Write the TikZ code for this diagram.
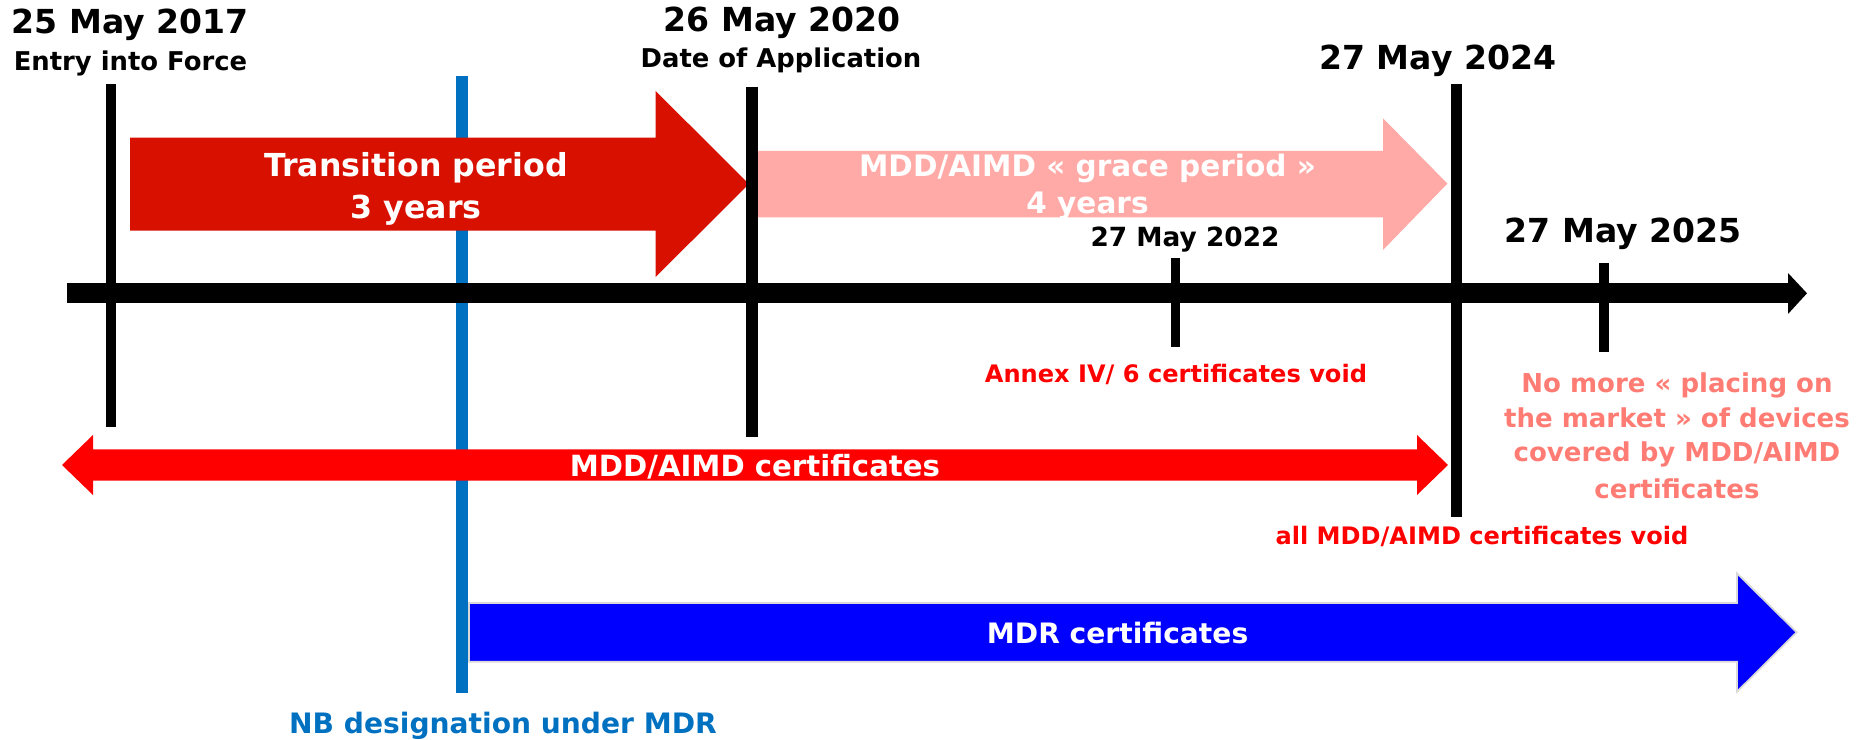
\documentclass[tikz,border=0pt]{standalone}
\usepackage{fontspec}
\setmainfont{DejaVu Sans}
\definecolor{trred}{HTML}{D71000}
\definecolor{gracepink}{HTML}{FFAAA6}
\definecolor{certred}{HTML}{FF0000}
\definecolor{mdrblue}{HTML}{0000FF}
\definecolor{nbblue}{HTML}{0070C0}
\definecolor{salmon}{HTML}{FF7C74}
\begin{document}
\begin{tikzpicture}[x=0.01cm,y=-0.01cm,
  txt/.style={inner sep=0pt, anchor=base},
  fs/.style={font=\bfseries\fontsize{#1}{#1}\selectfont},
  vline/.style={line width=3.0pt, black},
  tick/.style={line width=2.6pt, black},
]
\useasboundingbox (0,0) rectangle (1868,740);

% blue NB designation line (behind axis and arrows)
\coordinate (nbtop) at (462,76);
\coordinate (nbbot) at (462,693.3);
\draw[line width=3.13pt, nbblue] (nbtop) -- (nbbot);

% main axis
\coordinate (axl) at (67,293.3);
\coordinate (axr) at (1789,293.3);
\draw[line width=5.69pt, black] (axl) -- (axr);
\fill[black] (1788,273) -- (1807,293.3) -- (1788,314) -- cycle;

% transition period arrow
\fill[trred] (130,137.7) -- (655.6,137.7) -- (655.6,91) -- (749,184) -- (655.6,277) -- (655.6,230.7) -- (130,230.7) -- cycle;

% grace period arrow
\fill[gracepink] (758,151) -- (1383,151) -- (1383,118.3) -- (1447.4,183.6) -- (1383,250) -- (1383,217.3) -- (758,217.3) -- cycle;

% MDD/AIMD certificates double arrow
\fill[certred] (62,465) -- (93,435) -- (93,449.3) -- (1417,449.3) -- (1417,435) -- (1448,465) -- (1417,495) -- (1417,480.7) -- (93,480.7) -- (93,495) -- cycle;

% MDR certificates arrow
\filldraw[fill=mdrblue, draw=black!15, line width=0.5pt] (469,603) -- (1737,603) -- (1737,573.3) -- (1796.7,632.3) -- (1737,691.7) -- (1737,661.7) -- (469,661.7) -- cycle;

% black vertical date lines
\coordinate (v17t) at (110.8,84);   \coordinate (v17b) at (110.8,426.7);
\coordinate (v20t) at (752,86.7);   \coordinate (v20b) at (752,436.7);
\coordinate (v24t) at (1456.5,84);  \coordinate (v24b) at (1456.5,516.7);
\coordinate (v22t) at (1175.7,258); \coordinate (v22b) at (1175.7,346.7);
\coordinate (v25t) at (1604,263.3); \coordinate (v25b) at (1604,351.7);
\draw[vline] (v17t) -- (v17b);
\draw[vline, line width=3.3pt] (v20t) -- (v20b);
\draw[vline] (v24t) -- (v24b);
\draw[tick] (v22t) -- (v22b);
\draw[tick] (v25t) -- (v25b);

% date labels
\node[txt, fs=9.4pt] (d2017) at (130,34) {25 May 2017};
\node[txt, fs=7.35pt] (entry) at (130.5,70.7) {Entry into Force};
\node[txt, fs=9.4pt] (d2020) at (782,32) {26 May 2020};
\node[txt, fs=7.35pt] (appl) at (781,68) {Date of Application};
\node[txt, fs=9.4pt] (d2024) at (1437.7,69.3) {27 May 2024};
\node[txt, fs=7.5pt] (d2022) at (1185,246.7) {27 May 2022};
\node[txt, fs=9.4pt] (d2025) at (1623,242.7) {27 May 2025};

% arrow texts
\node[txt, fs=9.0pt, white] (tr1) at (416,176.7) {Transition period};
\node[txt, fs=9.0pt, white] (tr2) at (416,219) {3 years};
\node[txt, fs=8.4pt, white] (gr1) at (1087.5,177) {MDD/AIMD « grace period »};
\node[txt, fs=8.4pt, white] (gr2) at (1087.5,213.3) {4 years};
\node[txt, fs=8.3pt, white] (cert) at (755,476.7) {MDD/AIMD certificates};
\node[txt, fs=8.0pt, white] (mdr) at (1117.6,644) {MDR certificates};

% annotations
\node[txt, fs=6.85pt, certred] (annex) at (1176,382.7) {Annex IV/ 6 certificates void};
\node[txt, fs=6.85pt, certred] (allvoid) at (1482,545) {all MDD/AIMD certificates void};
\node[txt, fs=7.4pt, salmon] (nm1) at (1677,392.7) {No more « placing on};
\node[txt, fs=7.4pt, salmon] (nm2) at (1677,427.3) {the market » of devices};
\node[txt, fs=7.4pt, salmon] (nm3) at (1677,461.7) {covered by MDD/AIMD};
\node[txt, fs=7.4pt, salmon] (nm4) at (1677,498.3) {certificates};
\node[txt, fs=8.0pt, nbblue] (nb) at (503,733.3) {NB designation under MDR};
\end{tikzpicture}
\end{document}
